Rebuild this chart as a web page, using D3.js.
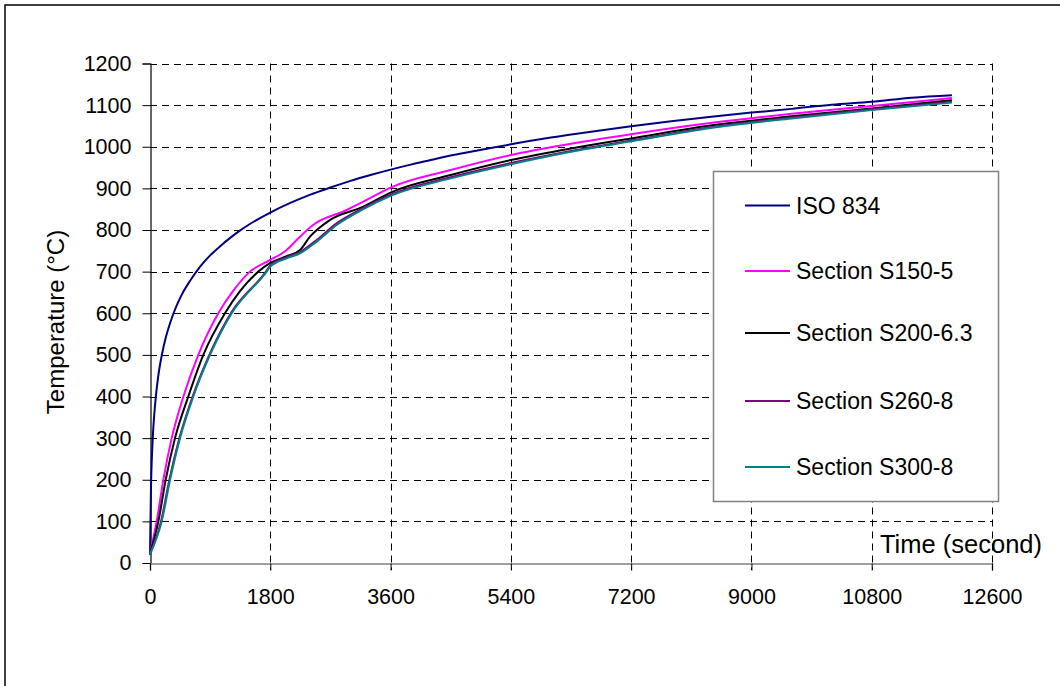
<!DOCTYPE html>
<html>
<head>
<meta charset="utf-8">
<script src="https://cdn.jsdelivr.net/npm/d3@7"></script>
<style>
body { margin: 0; background: #fff; }
svg { display: block; font-family: "Liberation Sans", Arial, sans-serif; }
</style>
</head>
<body>
<svg id="chart" width="1060" height="686"></svg>
<script>
// ---- data ----
const xTicks = [0, 1800, 3600, 5400, 7200, 9000, 10800, 12600];
const yTicks = [0, 100, 200, 300, 400, 500, 600, 700, 800, 900, 1000, 1100, 1200];

const seriesNames = ["ISO 834", "Section S150-5", "Section S200-6.3", "Section S260-8", "Section S300-8"];
const seriesColors = ["#000080", "#FF00FF", "#000000", "#800080", "#008080"];

const isoTime = [0, 15, 30, 45, 60, 90, 120, 180, 240, 300, 360, 420, 480, 600, 750, 900, 1050, 1200, 1350, 1500, 1800, 2100, 2400, 2700, 3000, 3300, 3600, 3900, 4200, 4500, 4800, 5400, 6000, 6600, 7200, 7800, 8400, 9000, 9600, 10200, 10800, 11400, 12000];
const isoTemp = [20, 185, 261, 312, 349, 404, 445, 502, 544, 576, 603, 626, 646, 678, 712, 739, 761, 781, 799, 815, 842, 865, 885, 902, 918, 932, 945, 957, 968, 979, 988, 1006, 1022, 1036, 1049, 1061, 1072, 1082, 1091, 1101, 1108, 1118, 1124];

const s150Time = [0, 100, 200, 325, 500, 723, 1022, 1250, 1496, 1800, 2045, 2195, 2440, 2943, 3192, 3600, 4500, 5400, 6300, 7200, 8440, 9600, 10800, 12000];
const s150Temp = [24, 100, 200, 300, 400, 500, 600, 655, 700, 728, 752, 776, 812, 848, 868, 902, 944, 980, 1007, 1030, 1058, 1079, 1098, 1117];

const s200Time = [0, 125, 235, 374, 573, 798, 1122, 1621, 1800, 2045, 2245, 2394, 2693, 3192, 3600, 4500, 5400, 6300, 7200, 8440, 9600, 10800, 12000];
const s200Temp = [22, 100, 200, 300, 400, 500, 600, 700, 721, 737, 752, 784, 824, 856, 890, 932, 968, 996, 1020, 1052, 1073, 1092, 1112];

const s260Time = [0, 165, 290, 440, 638, 888, 1210, 1735, 1800, 2045, 2245, 2494, 2793, 3192, 3600, 4500, 5400, 6300, 7200, 8440, 9600, 10800, 12000];
const s260Temp = [22, 100, 200, 300, 400, 500, 600, 700, 715, 735, 747, 776, 816, 853, 885, 927, 961, 990, 1015, 1048, 1070, 1090, 1108];

const s300Time = [0, 175, 300, 449, 648, 898, 1222, 1746, 1800, 2045, 2245, 2494, 2793, 3192, 3600, 4500, 5400, 6300, 7200, 8440, 9600, 10800, 12000];
const s300Temp = [21, 100, 200, 300, 400, 500, 600, 700, 712, 732, 744, 772, 812, 850, 882, 924, 958, 988, 1013, 1046, 1068, 1088, 1106];

const seriesTimes = [isoTime, s150Time, s200Time, s260Time, s300Time];
const seriesTemps = [isoTemp, s150Temp, s200Temp, s260Temp, s300Temp];

// ---- layout ----
const svg = d3.select("#chart");
const X0 = 150, X1 = 992, Y0 = 563, Y1 = 63.5;
const x = d3.scaleLinear().domain([0, 12600]).range([X0, X1]);
const y = d3.scaleLinear().domain([0, 1200]).range([Y0, Y1]);

// outer frame (only top and left visible)
svg.append("rect").attr("x", 5).attr("y", 5).attr("width", 1100).attr("height", 740)
  .attr("fill", "none").attr("stroke", "#000").attr("stroke-width", 1.5);

// gridlines
const grid = svg.append("g");
grid.selectAll(".hg").data(yTicks.filter(d => d > 0)).enter().append("line")
  .attr("x1", X0).attr("x2", X1)
  .attr("y1", d => Math.round(y(d)) + 0.5).attr("y2", d => Math.round(y(d)) + 0.5)
  .attr("stroke", "#000").attr("stroke-width", 1).attr("stroke-dasharray", "7,5");
grid.selectAll(".vg").data(xTicks.filter(d => d > 0)).enter().append("line")
  .attr("x1", d => Math.round(x(d)) + 0.5).attr("x2", d => Math.round(x(d)) + 0.5)
  .attr("y1", Y1).attr("y2", Y0 + 7)
  .attr("stroke", "#000").attr("stroke-width", 1).attr("stroke-dasharray", "7,5");

// y axis
const yAxis = d3.axisLeft(y).tickValues(yTicks).tickSize(8).tickPadding(11).tickFormat(d3.format("d"));
const gy = svg.append("g").attr("transform", `translate(${X0 + 0.5},0)`).call(yAxis);
gy.select(".domain").attr("stroke", "#000").attr("stroke-width", 1.2);
gy.selectAll(".tick line").attr("stroke", "#000");
gy.selectAll(".tick text").attr("font-size", 21.5).attr("fill", "#000")
  .attr("font-family", "'Liberation Sans', Arial, sans-serif");

// x axis
const xAxis = d3.axisBottom(x).tickValues(xTicks).tickSize(7).tickPadding(18).tickFormat(d3.format("d"));
const gx = svg.append("g").attr("transform", `translate(0,${Y0 + 0.5})`).call(xAxis);
gx.select(".domain").attr("stroke", "#808080").attr("stroke-width", 1.5);
gx.selectAll(".tick line").attr("stroke", "#000");
gx.selectAll(".tick text").attr("font-size", 21.5).attr("fill", "#000")
  .attr("font-family", "'Liberation Sans', Arial, sans-serif");

// series lines
const line = d3.line().x(d => x(d[0])).y(d => y(d[1])).curve(d3.curveMonotoneX);
seriesNames.forEach((name, i) => {
  const pts = seriesTimes[i].map((t, k) => [t, seriesTemps[i][k]]);
  svg.append("path").datum(pts).attr("d", line)
    .attr("fill", "none").attr("stroke", seriesColors[i]).attr("stroke-width", 2)
    .attr("stroke-linejoin", "round");
});

// axis titles
svg.append("text").attr("x", 1042).attr("y", 553).attr("text-anchor", "end")
  .attr("font-size", 25.5).attr("fill", "#000").text("Time (second)");
svg.append("text").attr("transform", "translate(64,322) rotate(-90)").attr("text-anchor", "middle")
  .attr("font-size", 24).attr("fill", "#000").text("Temperature (°C)");

// legend
const lg = svg.append("g");
lg.append("rect").attr("x", 713.5).attr("y", 171.5).attr("width", 285).attr("height", 330)
  .attr("fill", "#fff").attr("stroke", "#808080").attr("stroke-width", 1.5);
const legY = [205.5, 271, 333, 401, 467];
seriesNames.forEach((name, i) => {
  lg.append("line").attr("x1", 745).attr("x2", 790).attr("y1", legY[i]).attr("y2", legY[i])
    .attr("stroke", seriesColors[i]).attr("stroke-width", 2);
  lg.append("text").attr("x", 796).attr("y", legY[i] + 8).attr("font-size", 23)
    .attr("fill", "#000").text(name);
});
</script>
</body>
</html>
